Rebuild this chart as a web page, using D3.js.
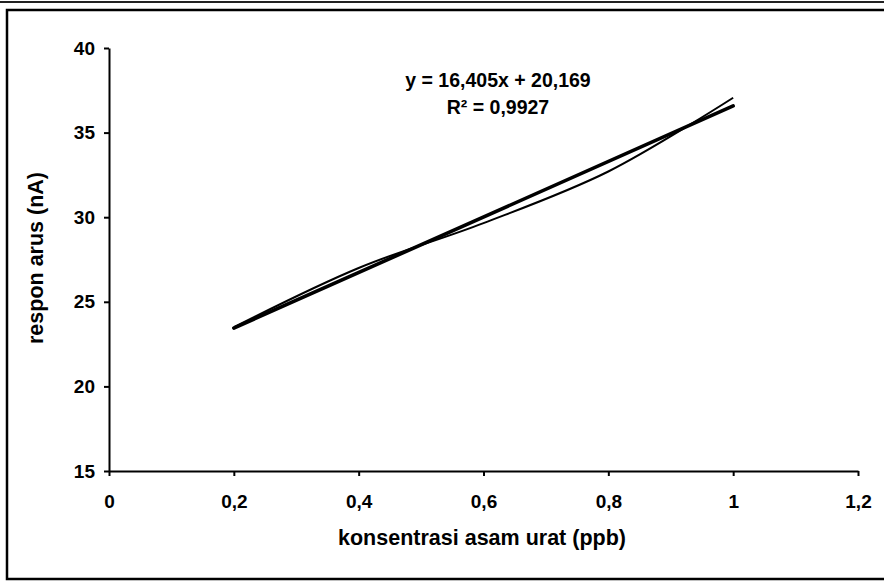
<!DOCTYPE html>
<html>
  <head>
    <meta charset="utf-8">
    <title>Respon arus vs konsentrasi asam urat</title>
    <style>
      body { margin: 0; background: white; }
      svg { display: block; }
      .axis text { font: bold 19px "Liberation Sans", Arial, sans-serif; fill: #000; }
      .axis path, .axis line { stroke: #000; stroke-width: 2; fill: none; }
      .eq { font: bold 19.5px "Liberation Sans", Arial, sans-serif; fill: #000; }
      .title { font: bold 21.5px "Liberation Sans", Arial, sans-serif; fill: #000; }
    </style>
  </head>
  <body>
  <svg id="chart" width="884" height="581"></svg>
  <script src="https://d3js.org/d3.v7.min.js"></script>
  <script>

  // measured points (konsentrasi ppb -> respon nA)
  var concentration = [0.2, 0.4, 0.6, 0.8, 1.0];
  var current = [23.5, 27.0, 29.65, 32.7, 37.06];

  // linear trend from the chart
  var slope = 16.405;
  var intercept = 20.169;
  var equationLines = ["y = 16,405x + 20,169", "R\u00B2 = 0,9927"];

  var xTicks = [0, 0.2, 0.4, 0.6, 0.8, 1, 1.2];
  var yTicks = [15, 20, 25, 30, 35, 40];

  var svg = d3.select("#chart");

  // outer frame (scanned page look)
  svg.append("line")
    .attr("x1", 0).attr("x2", 884).attr("y1", 2).attr("y2", 2)
    .attr("stroke", "#222").attr("stroke-width", 2);
  svg.append("rect")
    .attr("x", 7).attr("y", 10)
    .attr("width", 884).attr("height", 569)
    .attr("fill", "none").attr("stroke", "#000").attr("stroke-width", 2.5);

  var x = d3.scaleLinear().domain([0, 1.2]).range([109, 858]);
  var y = d3.scaleLinear().domain([15, 40]).range([471, 48]);

  var fmt = function(d) { return String(d).replace(".", ","); };

  svg.append("g")
    .attr("class", "x axis")
    .attr("transform", "translate(0," + y(15) + ")")
    .call(d3.axisBottom(x).tickValues(xTicks).tickFormat(fmt).tickSize(5).tickSizeOuter(0).tickPadding(19));

  svg.append("g")
    .attr("class", "y axis")
    .attr("transform", "translate(" + x(0) + ",0)")
    .call(d3.axisLeft(y).tickValues(yTicks).tickSize(5).tickSizeOuter(0).tickPadding(9));

  // trend line (thick)
  svg.append("line")
    .attr("x1", x(0.2)).attr("y1", y(slope * 0.2 + intercept))
    .attr("x2", x(1.0)).attr("y2", y(slope * 1.0 + intercept))
    .attr("stroke", "#000").attr("stroke-width", 3.6).attr("stroke-linecap", "round");

  // smoothed data line (thin)
  var line = d3.line()
    .x(function(d, i) { return x(concentration[i]); })
    .y(function(d) { return y(d); })
    .curve(d3.curveCatmullRom);

  svg.append("path")
    .datum(current)
    .attr("d", line)
    .attr("fill", "none")
    .attr("stroke", "#000")
    .attr("stroke-width", 2);

  // equation
  svg.selectAll(".eq")
    .data(equationLines)
    .enter().append("text")
    .attr("class", "eq")
    .attr("x", 498)
    .attr("y", function(d, i) { return 87 + i * 27; })
    .attr("text-anchor", "middle")
    .text(function(d) { return d; });

  // axis titles
  svg.append("text")
    .attr("class", "title")
    .attr("x", 482).attr("y", 545)
    .attr("text-anchor", "middle")
    .text("konsentrasi asam urat (ppb)");

  svg.append("text")
    .attr("class", "title")
    .attr("transform", "translate(43,258) rotate(-90)")
    .attr("text-anchor", "middle")
    .text("respon arus (nA)");

  </script>
  </body>
</html>
